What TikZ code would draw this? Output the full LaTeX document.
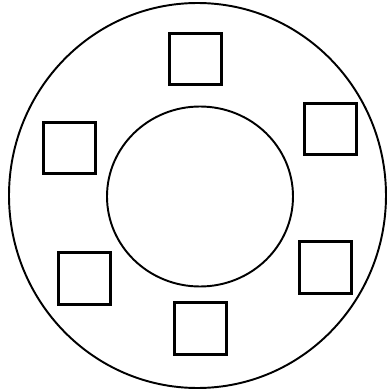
\documentclass[tikz,border=0pt]{standalone}
\usetikzlibrary{shapes.geometric, positioning}
\tikzset{
  ring/.style={ellipse, draw=black, line width=1.1pt, inner sep=0pt},
  slot/.style={rectangle, draw=black, line width=1.6pt, minimum width=1.03cm, minimum height=1.03cm, inner sep=0pt},
}
\begin{document}
\begin{tikzpicture}
    \useasboundingbox (0,0) rectangle (7.74,7.78);

    % Rings
    \node[ring, minimum width=7.54cm, minimum height=7.70cm] (outer) at (3.95,3.87) {};
    \node[ring, minimum width=3.72cm, minimum height=3.60cm] (inner) at (4.00,3.85) {};

    % Slots around the inner ring
    \foreach \nm/\x/\y in {top/3.91/6.60, upright/6.61/5.20, upleft/1.39/4.82, lowright/6.51/2.43, lowleft/1.69/2.21, bottom/4.01/1.21} {
      \node[slot] (\nm) at (\x,\y) {};
    }
\end{tikzpicture}
\end{document}
